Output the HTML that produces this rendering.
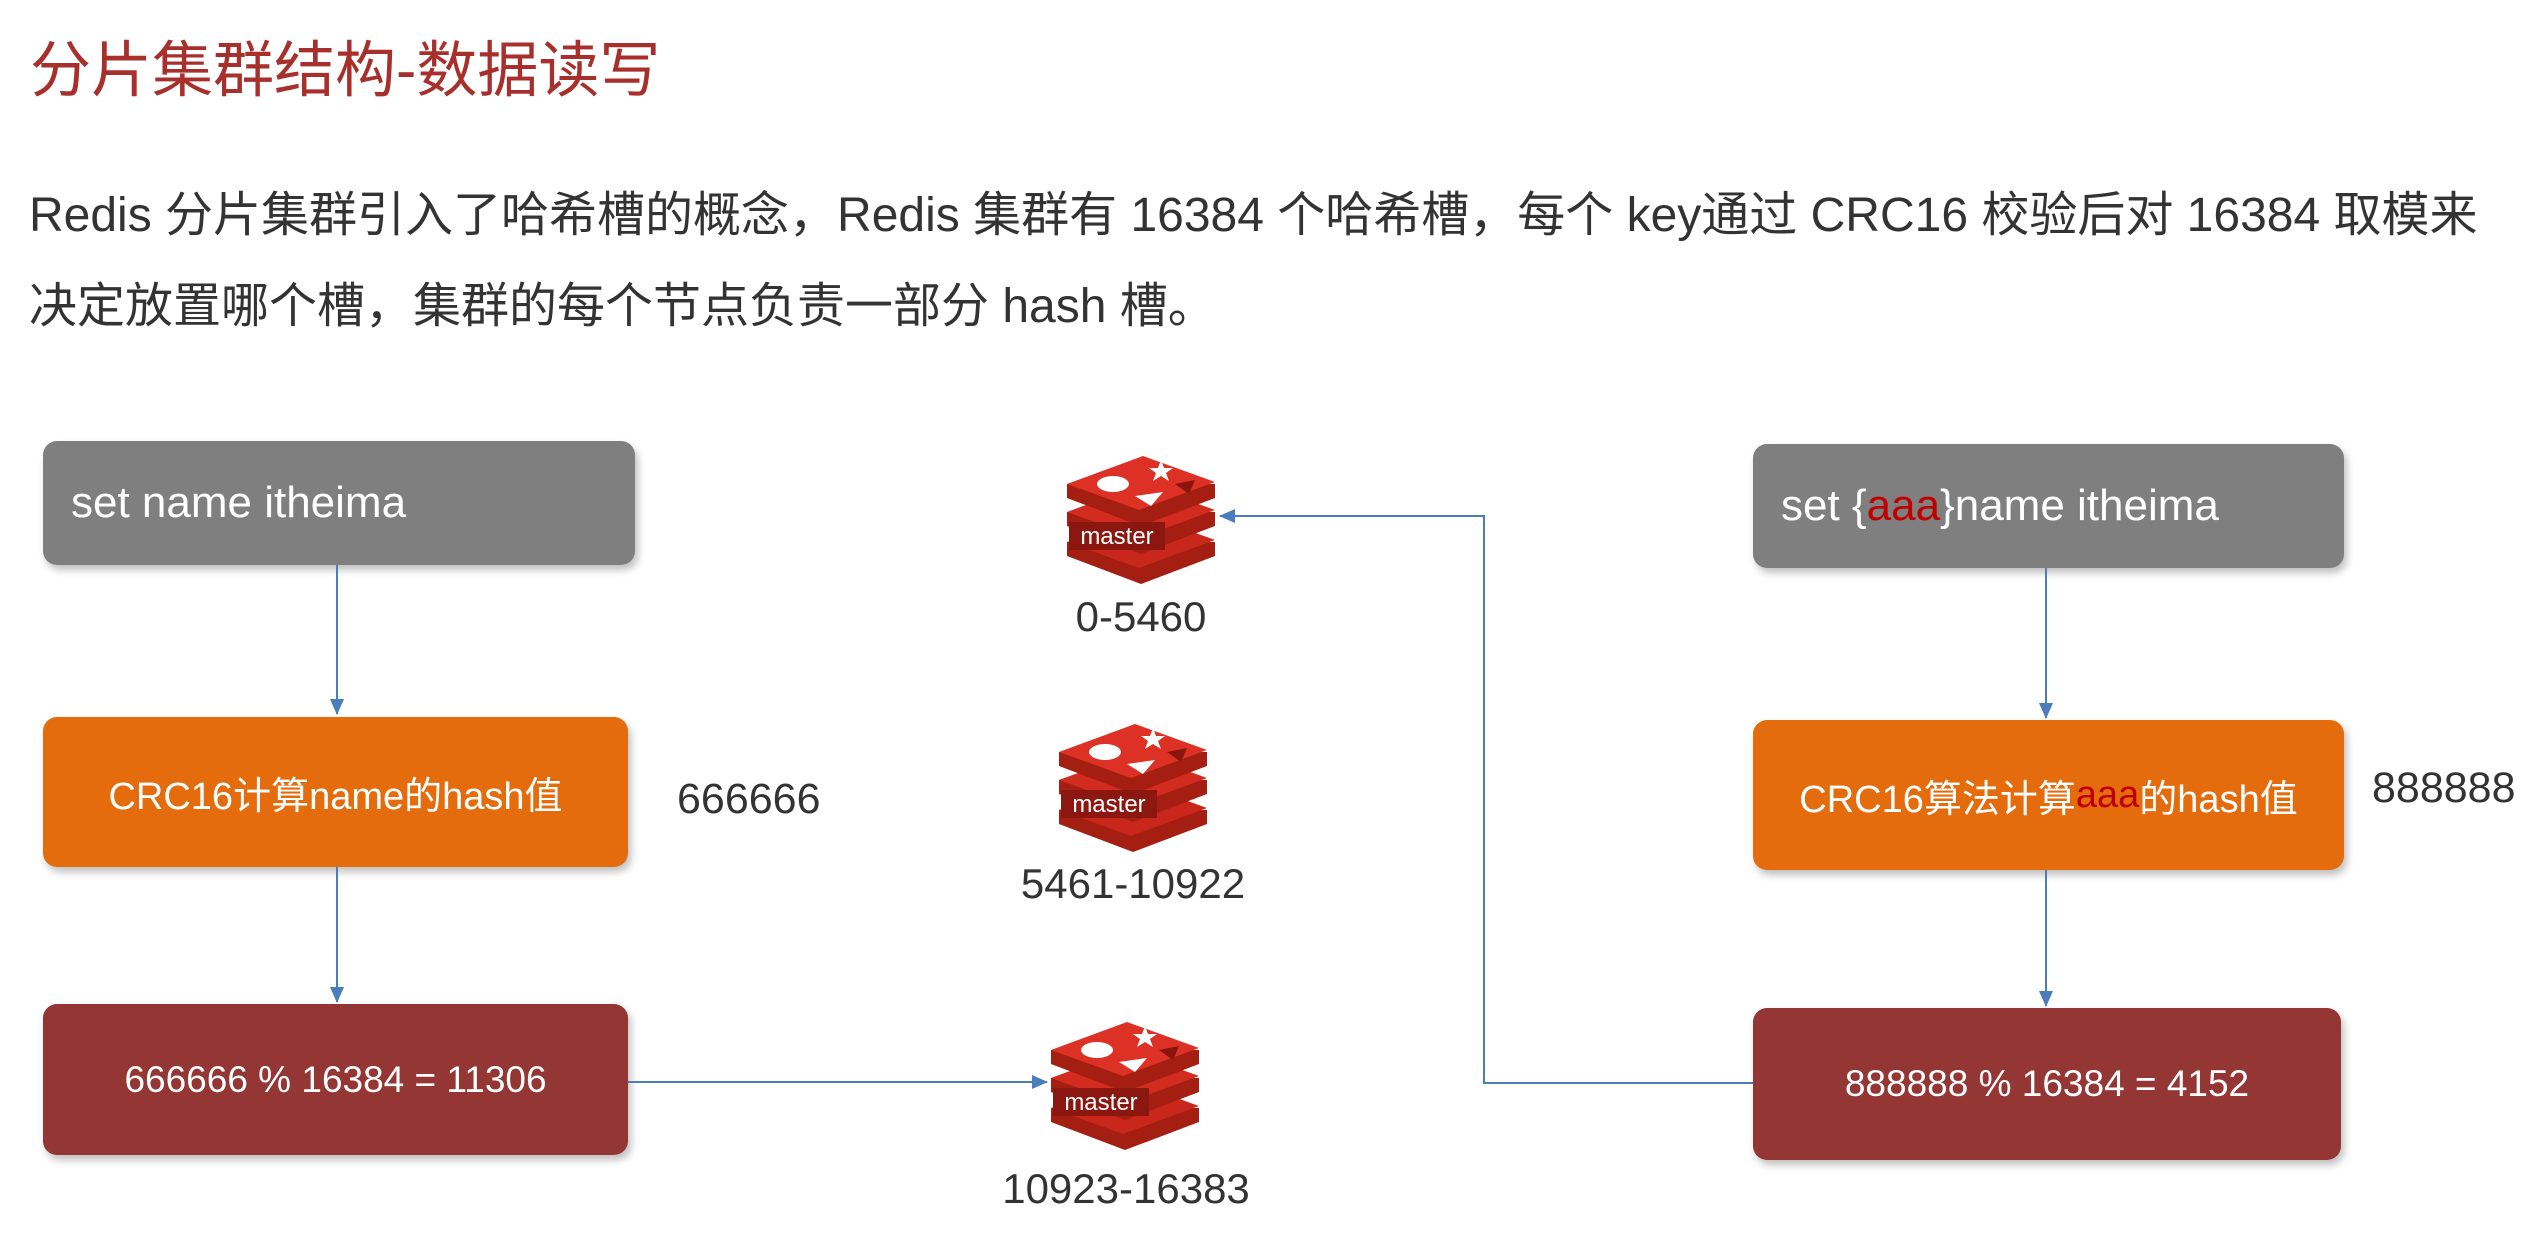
<!DOCTYPE html>
<html><head><meta charset="utf-8"><style>
html,body{margin:0;padding:0;background:#fff;width:2526px;height:1236px;overflow:hidden;}
body{position:relative;font-family:"Liberation Sans","Noto Sans CJK SC",sans-serif;}
.t{position:absolute;white-space:nowrap;}
.box{position:absolute;border-radius:14px;color:#fff;display:flex;align-items:center;box-shadow:3px 5px 8px rgba(0,0,0,0.25);white-space:nowrap;}
.g{background:#7f7f7f;font-size:44px;padding-left:28px;box-sizing:border-box;}
.o{background:#e46c0d;font-size:38px;justify-content:center;}
.r{background:#943634;font-size:37px;justify-content:center;}
.red{color:#c00000;}
.lbl{position:absolute;font-size:42px;color:#333;white-space:nowrap;transform:translateX(-50%);}
</style></head><body>
<div class="t" style="left:30px;top:20px;font-size:61px;color:#a8302c;">分片集群结构-数据读写</div>
<div class="t" style="left:29px;top:175px;font-size:48px;color:#333;">Redis 分片集群引入了哈希槽的概念，Redis 集群有 16384 个哈希槽，每个 key通过 CRC16 校验后对 16384 取模来</div>
<div class="t" style="left:29px;top:266px;font-size:48px;color:#333;">决定放置哪个槽，集群的每个节点负责一部分 hash 槽。</div>

<div class="box g" style="left:43px;top:441px;width:592px;height:124px;">set name itheima</div>
<div class="box o" style="left:43px;top:717px;width:585px;height:150px;">CRC16计算name的hash值</div>
<div class="box r" style="left:43px;top:1004px;width:585px;height:151px;">666666 % 16384 = 11306</div>
<div class="t" style="left:677px;top:775px;font-size:43px;color:#333;">666666</div>

<div class="box g" style="left:1753px;top:444px;width:591px;height:124px;">set {<span class="red">aaa</span>}name itheima</div>
<div class="box o" style="left:1753px;top:720px;width:591px;height:150px;">CRC16算法计算<span class="red">aaa</span>的hash值</div>
<div class="box r" style="left:1753px;top:1008px;width:588px;height:152px;">888888 % 16384 = 4152</div>
<div class="t" style="left:2372px;top:764px;font-size:43px;color:#333;">888888</div>

<div class="lbl" style="left:1141px;top:593px;">0-5460</div>
<div class="lbl" style="left:1133px;top:860px;">5461-10922</div>
<div class="lbl" style="left:1126px;top:1165px;">10923-16383</div>

<svg width="2526" height="1236" style="position:absolute;left:0;top:0" xmlns="http://www.w3.org/2000/svg">
<defs>
<marker id="a" markerWidth="16" markerHeight="16" refX="15" refY="8" orient="auto" markerUnits="userSpaceOnUse" viewBox="0 0 16 16">
<path d="M0,1 L16,8 L0,15 z" fill="#4a7ebb"/></marker>
<g id="icon">
<g>
<path d="M4,88 L4,102 L78,130 L152,102 L152,88 Z" fill="#a41e11"/>
<path d="M4,88 L80,60 L152,86 L76,114 Z" fill="#c9271b"/>
<path d="M4,58 L4,72 L78,100 L152,72 L152,58 Z" fill="#a41e11"/>
<path d="M4,58 L80,30 L152,56 L76,84 Z" fill="#d22b1f"/>
<path d="M4,30 L4,44 L78,72 L152,44 L152,30 Z" fill="#a41e11"/>
<path d="M4,30 L80,2 L152,28 L76,56 Z" fill="#dc3124"/>
<ellipse cx="50" cy="30" rx="16" ry="8" fill="#fff"/>
<path d="M98,6 L101,14 L110,14 L103,19 L106,27 L98,22 L90,27 L93,19 L86,14 L95,14 Z" fill="#fff"/>
<path d="M72,42 L100,38 L88,52 Z" fill="#fff"/>
<path d="M112,30 L132,26 L126,40 Z" fill="#8a150c"/>
<rect x="6" y="68" width="96" height="28" fill="#8b1710"/>
<text x="54" y="90" font-size="24" fill="#fff" text-anchor="middle" font-family="Liberation Sans, sans-serif">master</text>
</g>
</g>
</defs>
<use href="#icon" x="1063" y="454"/>
<use href="#icon" x="1055" y="722"/>
<use href="#icon" x="1047" y="1020"/>
<g stroke="#4a7ebb" stroke-width="2" fill="none">
<line x1="337" y1="565" x2="337" y2="714" marker-end="url(#a)"/>
<line x1="337" y1="867" x2="337" y2="1002" marker-end="url(#a)"/>
<line x1="2046" y1="568" x2="2046" y2="718" marker-end="url(#a)"/>
<line x1="2046" y1="870" x2="2046" y2="1006" marker-end="url(#a)"/>
<line x1="628" y1="1082" x2="1047" y2="1082" marker-end="url(#a)"/>
<polyline points="1753,1083 1484,1083 1484,516 1220,516" marker-end="url(#a)"/>
</g>
</svg>
</body></html>
